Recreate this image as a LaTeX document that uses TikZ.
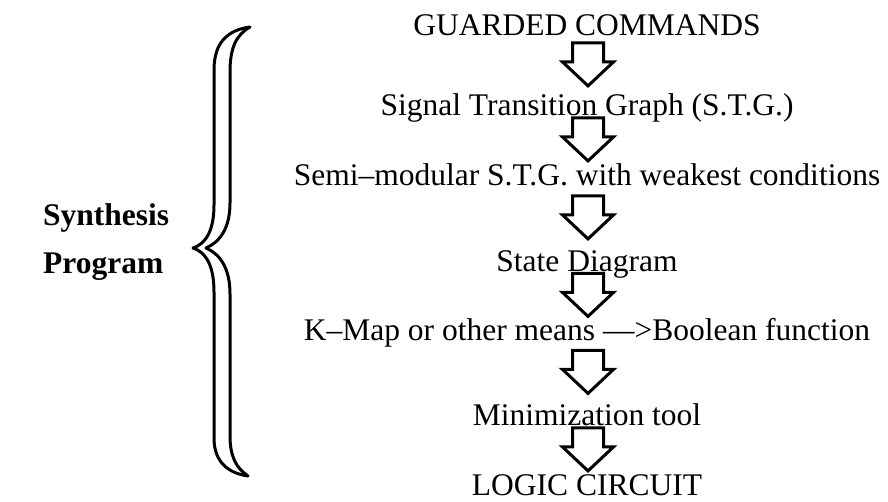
\documentclass[tikz,border=0pt]{standalone}
\usepackage{fontspec}
\setmainfont{Liberation Serif}
\usetikzlibrary{calc}

\tikzset{
  stage/.style={font=\fontsize{31.5}{36}\selectfont, inner sep=0pt,
                anchor=base, text height=21pt, text depth=0pt},
  sidelabel/.style={font=\fontsize{31.5}{36}\selectfont\bfseries,
                inner sep=0pt, anchor=base west},
  blockarrow/.style={draw=black, line width=3pt, fill=white, line join=miter},
  bracebody/.style={draw=black, line width=3pt, fill=white, line join=round}
}

% hollow block arrow from the baseline of one stage down to the top of the next
\newcommand\flowarrow[2]{%
  \draw[blockarrow] let \p1=(#1.base), \p2=(#2.north),
      \n1={0.5*(\y1+\y2)}, \n2={\x1+1pt} in
    (\n2-15.5pt,\n1+21.5pt) -- (\n2+15.5pt,\n1+21.5pt) --
    (\n2+15.5pt,\n1+2.5pt) -- (\n2+25.5pt,\n1+2.5pt) --
    (\n2,\n1-21.5pt) --
    (\n2-25.5pt,\n1+2.5pt) -- (\n2-15.5pt,\n1+2.5pt) -- cycle;}

\begin{document}
\begin{tikzpicture}[x=1pt,y=-1pt]
\useasboundingbox (0,0) rectangle (888,501);

% stages of the synthesis flow
\node[stage] (gc)  at (587,35)  {GUARDED COMMANDS};
\node[stage] (stg) at (587,115) {Signal Transition Graph (S.T.G.)};
\node[stage] (sm)  at (587,185) {Semi–modular S.T.G. with weakest conditions};
\node[stage] (sd)  at (587,271) {State Diagram};
\node[stage] (km)  at (587,340) {K–Map or other means —>Boolean function};
\node[stage] (mt)  at (587,425) {Minimization tool};
\node[stage] (lc)  at (587,495) {LOGIC CIRCUIT};

\flowarrow{gc}{stg}
\flowarrow{stg}{sm}
\flowarrow{sm}{sd}
\flowarrow{sd}{km}
\flowarrow{km}{mt}
\flowarrow{mt}{lc}

% outlined curly brace grouping the stages
\path[bracebody]
  (250,27) .. controls (228,30) and (214,42) .. (214,70)
  -- (214,205) .. controls (214,232) and (205,244) .. (193,248)
  .. controls (205,252) and (214,264) .. (214,292)
  -- (214,438) .. controls (214,462) and (228,473) .. (248,476)
  .. controls (236,468) and (230,456) .. (230,436)
  -- (230,294) .. controls (230,268) and (220,254) .. (206,248)
  .. controls (220,242) and (230,228) .. (230,203)
  -- (230,72) .. controls (230,48) and (236,35) .. (250,27) -- cycle;

% label of the bracket
\node[sidelabel] (syn)  at (43,225) {Synthesis};
\node[sidelabel] (prog) at (43,273) {Program};
\end{tikzpicture}
\end{document}
